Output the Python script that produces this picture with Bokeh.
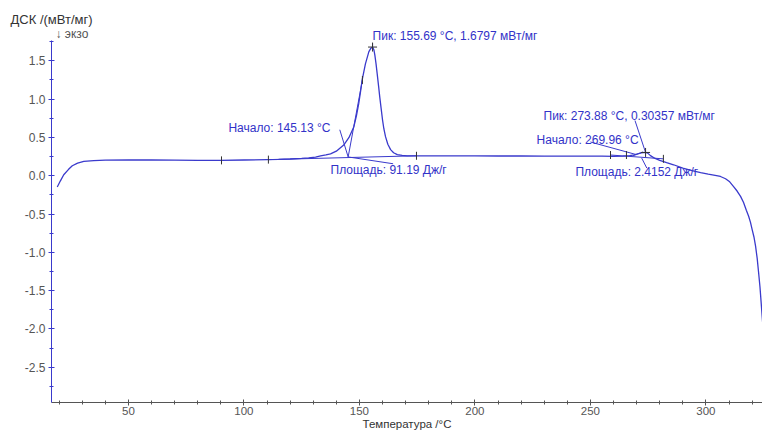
from bokeh.plotting import figure
from bokeh.models import Range1d, SingleIntervalTicker, PrintfTickFormatter, Label, Title
from bokeh.embed import file_html
from bokeh.resources import INLINE
import math

# ---- data ----
temperature = [19.2, 20.5, 22.0, 24.0, 25.7, 28.0, 30.7, 35.0, 40, 50, 60, 70, 80, 90, 100, 110, 115, 120,
               125, 128, 131, 133.2, 135.5, 137.5, 140, 143.2, 145.5, 147.6, 148.7, 149.7, 150.5, 151.2,
               152.6, 154.1, 155.0, 155.69, 156.3, 156.7, 157.2, 157.7, 158.3, 158.8, 159.4, 160.0, 160.6,
               161.3, 162.3, 163.5, 164.8, 166.4, 168.5, 170.7, 175, 180, 190, 200, 210, 220, 230, 240,
               250, 255, 260, 264, 267, 269, 270.5, 272, 273.0, 273.88, 274.8, 276.0, 278, 280, 283, 286,
               290, 294, 297.7, 301, 304, 306.3, 308.5, 310.3, 311.9, 313.5, 315, 316.3, 317.5, 318.5,
               319.3, 320.0, 320.8, 321.5, 322.2, 322.8, 323.4, 323.9, 324.4, 325.0]
dsc = [-0.147, -0.07, 0.013, 0.08, 0.13, 0.165, 0.186, 0.198, 0.203, 0.205, 0.205, 0.203, 0.20, 0.20,
       0.205, 0.21, 0.213, 0.218, 0.226, 0.233, 0.243, 0.26, 0.272, 0.286, 0.32, 0.40, 0.50, 0.64, 0.78,
       0.94, 1.10, 1.25, 1.46, 1.62, 1.665, 1.6797, 1.64, 1.57, 1.46, 1.33, 1.17, 1.03, 0.88, 0.73, 0.61,
       0.51, 0.41, 0.34, 0.30, 0.275, 0.265, 0.26, 0.258, 0.258, 0.258, 0.258, 0.257, 0.257, 0.256, 0.256,
       0.256, 0.255, 0.253, 0.255, 0.262, 0.272, 0.285, 0.298, 0.302, 0.3036, 0.295, 0.262, 0.225, 0.20,
       0.17, 0.143, 0.10, 0.065, 0.039, 0.02, 0.005, -0.01, -0.04, -0.08, -0.139, -0.20, -0.27, -0.35,
       -0.45, -0.53, -0.61, -0.70, -0.80, -0.92, -1.08, -1.26, -1.45, -1.65, -1.85, -2.1]

# evaluation marks (temperature, value)
tick_marks_t = [90.3, 110.6, 151.3, 174.7, 258.7, 265.6, 281.6]
tick_marks_v = [0.20, 0.21, 1.25, 0.26, 0.27, 0.27, 0.22]
peak_t = [155.69, 273.88]
peak_v = [1.6797, 0.30357]

# construction lines (x0, y0, x1, y1)
seg_x0 = [110.6, 145.13, 141.5, 145.13, 155.69, 258.7, 268.5, 250.0, 269.3, 272.2]
seg_y0 = [0.21, 0.245, 0.60, 0.245, 1.73, 0.27, 0.262, 0.44, 0.72, 0.23]
seg_x1 = [174.7, 151.3, 145.13, 164.6, 155.69, 281.6, 272.8, 269.96, 273.88, 274.4]
seg_y1 = [0.26, 1.25, 0.245, 0.156, 1.68, 0.22, 0.31, 0.275, 0.3036, 0.10]

ann_texts = ["Пик: 155.69 °C, 1.6797 мВт/мг", "Начало: 145.13 °C", "Площадь: 91.19 Дж/г",
             "Пик: 273.88 °C, 0.30357 мВт/мг", "Начало: 269.96 °C", "Площадь: 2.4152 Дж/г"]
ann_x = [155.7, 93.3, 137.5, 229.7, 226.7, 243.5]
ann_y = [1.83, 0.62, 0.08, 0.78, 0.47, 0.05]

Y_MIN, Y_AXIS_TOP, Y_MAX = -2.961, 1.766, 1.948

BLUE = "#3a3acc"
TXT = "#3232c8"
FONT = "Liberation Sans"

p = figure(width=762, height=432, output_backend="svg", toolbar_location=None,
           x_range=Range1d(16.7, 324.5), y_range=Range1d(Y_MIN, Y_MAX),
           min_border_left=51, min_border_top=26, min_border_bottom=28, min_border_right=0)
p.outline_line_color = None
p.xgrid.visible = False
p.ygrid.visible = False
p.background_fill_color = "white"

# axes
p.xaxis.ticker = SingleIntervalTicker(interval=50, num_minor_ticks=5)
p.yaxis.ticker = SingleIntervalTicker(interval=0.5, num_minor_ticks=2)
p.yaxis.formatter = PrintfTickFormatter(format="%.1f")
p.yaxis.bounds = (Y_MIN, Y_AXIS_TOP)
for ax in (p.xaxis, p.yaxis):
    ax.major_label_text_font = FONT
    ax.major_label_text_color = "#555555"
    ax.major_tick_in = 3
    ax.major_tick_out = 3
    ax.minor_tick_in = 2
    ax.minor_tick_out = 2
    ax.major_label_standoff = 1
p.xaxis.major_label_text_font_size = "11.5px"
p.yaxis.major_label_text_font_size = "12px"
p.xaxis.axis_line_color = "#555555"
p.xaxis.major_tick_line_color = "#555555"
p.xaxis.minor_tick_line_color = "#555555"
p.xaxis.axis_label = "Температура /°C"
p.xaxis.axis_label_text_font = FONT
p.xaxis.axis_label_text_font_size = "11.5px"
p.xaxis.axis_label_text_font_style = "normal"
p.xaxis.axis_label_text_color = "#333333"
p.xaxis.axis_label_standoff = 0
p.yaxis.axis_line_color = BLUE
p.yaxis.major_tick_line_color = BLUE
p.yaxis.minor_tick_line_color = BLUE
p.yaxis.major_label_standoff = 3

# curve
p.line(temperature, dsc, line_color=BLUE, line_width=1.3)

# construction lines
p.segment(x0=seg_x0, y0=seg_y0, x1=seg_x1, y1=seg_y1, line_color=BLUE, line_width=1)

# marks
p.scatter(tick_marks_t, tick_marks_v, marker="dash", angle=math.pi / 2, size=8,
          line_color="#333333", line_width=1)
p.scatter(peak_t, peak_v, marker="cross", size=9, line_color="#333333", line_width=1)

# annotations
for t, x, y in zip(ann_texts, ann_x, ann_y):
    p.add_layout(Label(x=x, y=y, text=t, text_font=FONT, text_font_size="12px",
                       text_color=TXT, text_baseline="middle", text_align="left"))

# exo direction marker just above the axis top
p.add_layout(Label(x=18.4, y=1.85, text="↓ экзо", text_font=FONT, text_font_size="12px",
                   text_color="#555555", text_baseline="middle", text_align="left"))

# y-axis title above the frame
p.add_layout(Title(text="ДСК /(мВт/мг)", align="left", offset=-41, standoff=0,
                   text_font=FONT, text_font_size="13px", text_font_style="normal",
                   text_color="#333333"), "above")

open("out.html", "w").write(file_html(p, INLINE))
